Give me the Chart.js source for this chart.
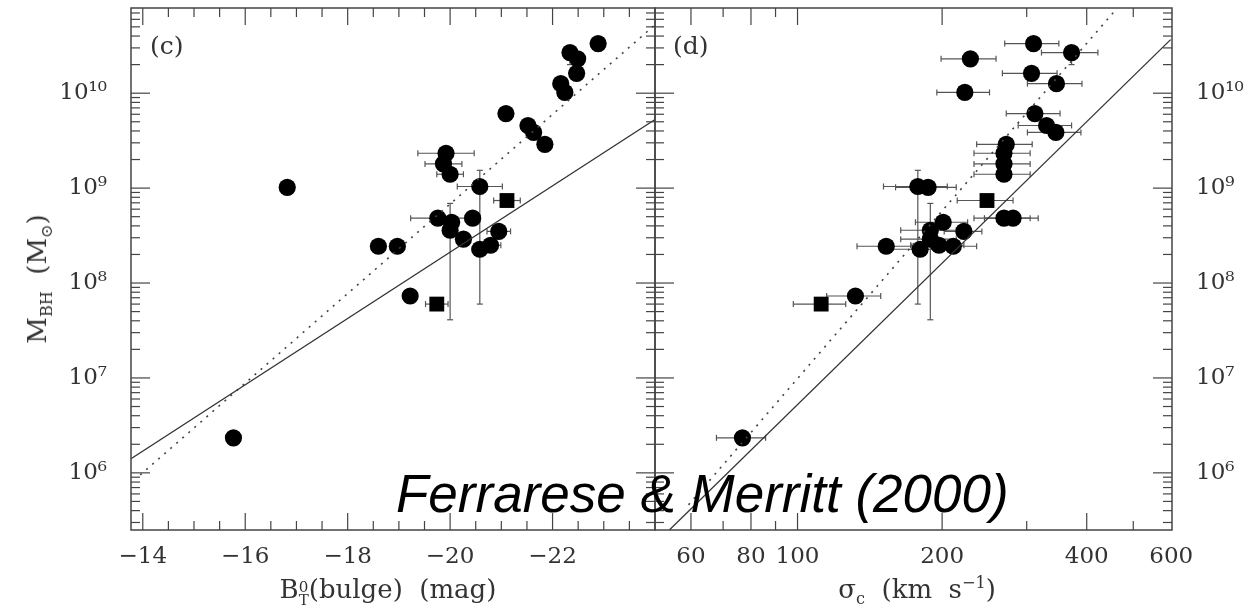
<!DOCTYPE html>
<html>
<head>
<meta charset="utf-8">
<script src="https://cdn.jsdelivr.net/npm/chart.js@4.4.1/dist/chart.umd.min.js"></script>
<style>
body{margin:0;background:#fff;}
#wrap{position:relative;width:1252px;height:613px;overflow:hidden;background:#fff;font-family:"DejaVu Serif",serif;color:#333;}
canvas{position:absolute;top:0;}
#cvC{left:0;}
#cvD{left:654px;}
.lbl{position:absolute;white-space:nowrap;line-height:1;}
.lbl sub,.lbl sup{font-size:62%;line-height:0;}
.stk{display:inline-block;font-size:58%;line-height:0.85;vertical-align:-0.45em;text-align:left;}
#ytitle{left:37px;top:279px;font-size:26px;transform:translate(-50%,-50%) rotate(-90deg);}
#xtitleC{left:388px;top:576px;font-size:26px;transform:translateX(-50%);}
#xtitleD{left:917px;top:576px;font-size:26px;transform:translateX(-50%);}
#credit{left:396px;top:467px;font-family:"Liberation Sans",Arial,sans-serif;font-style:italic;font-size:53px;color:#000;z-index:5;}
</style>
</head>
<body>
<div id="wrap">
<canvas id="cvC" width="656" height="613"></canvas>
<canvas id="cvD" width="598" height="613"></canvas>
<div class="lbl" style="left:150px;top:33px;font-size:25px">(c)</div>
<div class="lbl" style="left:673px;top:33px;font-size:25px">(d)</div>
<div class="lbl" id="ytitle">M<sub>BH</sub>&nbsp;&nbsp;(M<sub>⊙</sub>)</div>
<div class="lbl" id="xtitleC">B<span class="stk">0<br>T</span>(bulge)&nbsp;&nbsp;(mag)</div>
<div class="lbl" id="xtitleD">σ<sub>c</sub>&nbsp;&nbsp;(km&nbsp;&nbsp;s<sup>−1</sup>)</div>
<div class="lbl" id="credit">Ferrarese &amp; Merritt (2000)</div>
</div>
<script>
// same galaxies, same order, in both panels
const bulgeMag = [-22.89, -22.34, -22.49, -22.47, -22.16, -22.24, -21.09, -21.52, -21.63, -21.85,
  -19.92, -19.87, -20.00, -20.58, -16.82, -19.76, -20.44, -20.03, -20.00, -20.95,
  -20.26, -20.79, -18.60, -18.97, -20.58, -19.22, -15.77];
const bulgeMagErr = [0.1, 0.12, 0.12, 0.1, 0.1, 0.1, 0, 0, 0, 0,
  0.55, 0.36, 0.26, 0.44, 0, 0.53, 0, 0, 0, 0.23,
  0, 0.2, 0.1, 0.1, 0.15, 0, 0];
const sigmaC = [310, 372, 229, 307, 346, 223, 312, 330, 345, 272,
  269, 269, 269, 178, 187, 269, 281, 201, 189, 222,
  189, 197, 153, 211, 180, 132, 76.8];
const sigmaErr = [40, 50, 30, 40, 45, 28, 40, 42, 44, 36,
  36, 36, 36, 27, 27, 36, 36, 25, 25, 20,
  25, 25, 20, 25, 25, 17, 9];
const massBH = [3.33e10, 2.68e10, 2.3e10, 1.62e10, 1.26e10, 1.02e10, 6.1e9, 4.57e9, 3.86e9, 2.89e9,
  2.33e9, 1.8e9, 1.40e9, 1.04e9, 1.02e9, 4.82e8, 4.82e8, 4.37e8, 3.6e8, 3.5e8,
  2.9e8, 2.5e8, 2.44e8, 2.44e8, 2.27e8, 7.3e7, 2.34e6];
const massLo = [null, 2.0e10, null, null, null, null, null, null, null, null,
  null, null, null, 6.0e7, null, null, null, null, 4.1e7, null,
  null, null, 2.2e8, 2.2e8, null, null, null];
const massHi = [null, 2.68e10, null, null, null, null, null, null, null, null,
  null, null, null, 1.54e9, null, null, null, null, 6.9e8, null,
  null, null, 2.75e8, 2.75e8, null, null, null];

// squares
const sqMag = [-19.74, -21.11];
const sqMagErr = [0.22, 0.26];
const sqSigma = [112, 248];
const sqSigmaErr = [14, 33];
const sqMass = [6.0e7, 7.4e8];

// fitted relations (end points)
const solidCx = [-13.77, -24.0];
const solidCy = [1.41e6, 5.28e9];
const dotCx = [-13.95, -23.98];
const dotCy = [9.5e5, 5.15e10];
const solidDx = [54.1, 598];
const solidDy = [2.5e5, 3.67e10];
const dotDx = [59.3, 460];
const dotDy = [4.6e5, 7.6e10];

// ticks
const massTicks = [1e6, 1e7, 1e8, 1e9, 1e10];
const massTickLabels = ['10⁶', '10⁷', '10⁸', '10⁹', '10¹⁰'];
const magTicks = [-14, -16, -18, -20, -22];
const magTickLabels = ['−14', '−16', '−18', '−20', '−22'];
const sigmaTicks = [60, 80, 100, 200, 400, 600];
const sigmaTickLabels = ['60', '80', '100', '200', '400', '600'];
const sigmaMinor = [70, 90, 300, 500];

const massMin = 2.5e5, massMax = 7.9e10;
const axisColor = '#444';
const ink = '#333';

function logMinor(lo, hi){
  const out = [];
  for (let d = 5; d <= 10; d++) for (let k = 2; k <= 9; k++) {
    const v = k * Math.pow(10, d);
    if (v > lo && v < hi) out.push(v);
  }
  return out;
}
const massMinor = logMinor(massMin, massMax);
const magMinor = [];
for (let v = -14.5; v > -24; v -= 0.5) if (v % 2 !== 0) magMinor.push(v);

function points(xs, xe, lo, hi, ys){
  return xs.map((x, i) => ({
    x: x, y: ys[i],
    xlo: xe[i] ? x - xe[i] : null, xhi: xe[i] ? x + xe[i] : null,
    ylo: lo ? lo[i] : null, yhi: hi ? hi[i] : null
  }));
}
function line(xs, ys){ return xs.map((x, i) => ({x: x, y: ys[i]})); }

const errorBars = {
  id: 'errorBars',
  beforeDatasetsDraw(chart){
    const {ctx, chartArea: a, scales: {x, y}} = chart;
    ctx.save();
    ctx.beginPath(); ctx.rect(a.left, a.top, a.right - a.left, a.bottom - a.top); ctx.clip();
    ctx.strokeStyle = '#555'; ctx.lineWidth = 1.2;
    const seg = (x1, y1, x2, y2) => { ctx.beginPath(); ctx.moveTo(x1, y1); ctx.lineTo(x2, y2); ctx.stroke(); };
    chart.data.datasets.forEach(ds => {
      if (!ds.errorBars) return;
      ds.data.forEach(p => {
        const px = x.getPixelForValue(p.x), py = y.getPixelForValue(p.y);
        if (p.xlo != null) {
          const x1 = x.getPixelForValue(p.xlo), x2 = x.getPixelForValue(p.xhi);
          seg(x1, py, x2, py); seg(x1, py - 3, x1, py + 3); seg(x2, py - 3, x2, py + 3);
        }
        if (p.ylo != null) {
          const y1 = y.getPixelForValue(p.ylo), y2 = y.getPixelForValue(p.yhi);
          seg(px, y1, px, y2); seg(px - 3, y1, px + 3, y1); seg(px - 3, y2, px + 3, y2);
        }
      });
    });
    ctx.restore();
  }
};

const frameTicks = {
  id: 'frameTicks',
  afterDraw(chart, args, o){
    const {ctx, chartArea: a, scales: {x, y}} = chart;
    ctx.save();
    ctx.strokeStyle = axisColor;
    ctx.lineWidth = 1.5;
    ctx.strokeRect(a.left, a.top, a.right - a.left, a.bottom - a.top);
    ctx.lineWidth = 1.2;
    const seg = (x1, y1, x2, y2) => { ctx.beginPath(); ctx.moveTo(x1, y1); ctx.lineTo(x2, y2); ctx.stroke(); };
    const xt = (vals, len) => vals.forEach(v => {
      const p = x.getPixelForValue(v);
      if (p < a.left || p > a.right) return;
      seg(p, a.bottom, p, a.bottom - len); seg(p, a.top, p, a.top + len);
    });
    const yt = (vals, len) => vals.forEach(v => {
      const p = y.getPixelForValue(v);
      if (p < a.top || p > a.bottom) return;
      seg(a.left, p, a.left + len, p); seg(a.right, p, a.right - len, p);
    });
    xt(o.xMajor, 17); xt(o.xMinor, 9);
    yt(massTicks, 19); yt(massMinor, 9);
    ctx.restore();
  }
};

const circleStyle = {pointStyle: 'circle', pointRadius: 8.6, backgroundColor: '#000', borderWidth: 0, errorBars: true, showLine: false};
const squareStyle = {pointStyle: 'rect', pointRadius: 10.5, backgroundColor: '#000', borderWidth: 0, errorBars: true, showLine: false};
const solidStyle = {showLine: true, pointRadius: 0, borderColor: ink, borderWidth: 1.3, fill: false};
const dotStyle = {showLine: true, pointRadius: 0, borderColor: '#444', borderWidth: 1.6, borderDash: [2, 6], fill: false};

function yAxis(pos, width){
  return {
    type: 'logarithmic', position: pos, min: massMin, max: massMax,
    grid: {display: false, drawTicks: false}, border: {display: false},
    afterBuildTicks: s => { s.ticks = massTicks.map(v => ({value: v})); },
    afterFit: s => { s.width = width; s.paddingTop = 0; s.paddingBottom = 0; },
    ticks: {
      callback: (v, i) => massTickLabels[i],
      color: ink, padding: 24, font: {family: 'DejaVu Serif', size: 23}
    }
  };
}

function xAxisFit(s){ s.height = 83; s.paddingLeft = 0; s.paddingRight = 0; }

const common = {
  responsive: false, animation: false,
  plugins: {legend: {display: false}, tooltip: {enabled: false}}
};

new Chart(document.getElementById('cvC'), {
  type: 'scatter',
  data: {datasets: [
    Object.assign({data: line(solidCx, solidCy)}, solidStyle),
    Object.assign({data: line(dotCx, dotCy)}, dotStyle),
    Object.assign({data: points(sqMag, sqMagErr, null, null, sqMass)}, squareStyle),
    Object.assign({data: points(bulgeMag, bulgeMagErr, massLo, massHi, massBH)}, circleStyle)
  ]},
  options: Object.assign({}, common, {
    layout: {autoPadding: false, padding: {top: 8, right: 1, left: 0, bottom: 0}},
    plugins: Object.assign({}, common.plugins, {frameTicks: {xMajor: magTicks, xMinor: magMinor}}),
    scales: {
      x: {
        type: 'linear', reverse: true, min: -24.0, max: -13.77,
        grid: {display: false, drawTicks: false}, border: {display: false},
        afterBuildTicks: s => { s.ticks = magTicks.map(v => ({value: v})); },
        afterFit: xAxisFit,
        ticks: {callback: (v, i) => magTickLabels[i], color: ink, padding: 13, autoSkip: false, maxRotation: 0,
          font: {family: 'DejaVu Serif', size: 23}}
      },
      y: yAxis('left', 131)
    }
  }),
  plugins: [errorBars, frameTicks]
});

new Chart(document.getElementById('cvD'), {
  type: 'scatter',
  data: {datasets: [
    Object.assign({data: line(solidDx, solidDy)}, solidStyle),
    Object.assign({data: line(dotDx, dotDy)}, dotStyle),
    Object.assign({data: points(sqSigma, sqSigmaErr, null, null, sqMass)}, squareStyle),
    Object.assign({data: points(sigmaC, sigmaErr, massLo, massHi, massBH)}, circleStyle)
  ]},
  options: Object.assign({}, common, {
    layout: {autoPadding: false, padding: {top: 8, right: 0, left: 1, bottom: 0}},
    plugins: Object.assign({}, common.plugins, {frameTicks: {xMajor: sigmaTicks.slice(0, 5), xMinor: sigmaMinor}}),
    scales: {
      x: {
        type: 'logarithmic', min: 50.5, max: 602,
        grid: {display: false, drawTicks: false}, border: {display: false},
        afterBuildTicks: s => { s.ticks = sigmaTicks.map(v => ({value: v})); },
        afterFit: xAxisFit,
        ticks: {callback: (v, i) => sigmaTickLabels[i], color: ink, padding: 13, autoSkip: false, maxRotation: 0,
          font: {family: 'DejaVu Serif', size: 23}}
      },
      y: yAxis('right', 80)
    }
  }),
  plugins: [errorBars, frameTicks]
});
</script>
</body>
</html>
